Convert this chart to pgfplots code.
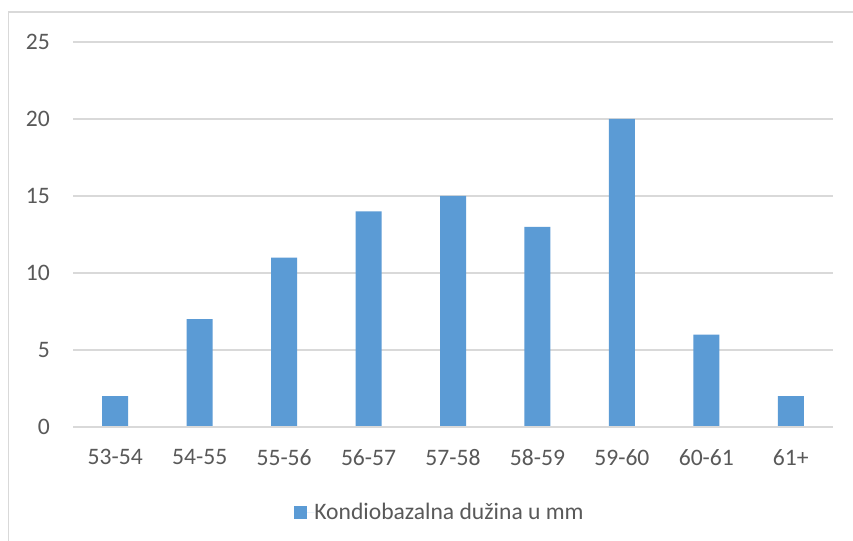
\documentclass[border=0pt]{standalone}
\usepackage{fontspec}
\setmainfont{Carlito}
\usepackage{pgfplots}
\pgfplotsset{compat=1.18}
\definecolor{barblue}{HTML}{5B9BD5}
\definecolor{gridgray}{HTML}{D9D9D9}
\definecolor{textgray}{HTML}{595959}
\begin{document}
\begin{tikzpicture}[x=1bp,y=1bp]
\useasboundingbox (0,0) rectangle (853,541);
\clip (0,0) rectangle (853,541);
\fill[white] (0,0) rectangle (853,541);
\draw[gridgray, line width=1.5bp] (8.5,-20) rectangle (900,529);
\begin{axis}[
    at={(73bp,114bp)}, anchor=south west,
    width=760bp, height=385bp, scale only axis,
    ybar, bar width=26bp,
    xmin=-0.5, xmax=8.5, ymin=0, ymax=25,
    ytick={0,5,...,25},
    xtick={0,...,8},
    xticklabels={53-54,54-55,55-56,56-57,57-58,58-59,59-60,60-61,61+},
    axis line style={draw=none},
    axis x line*=bottom,
    major tick length=0pt,
    ymajorgrids, grid style={gridgray, line width=1.5bp},
    /pgf/number format/assume math mode=true,
    tick label style={text=textgray, font=\fontsize{23.6bp}{28bp}\selectfont},
    yticklabel style={anchor=east, inner sep=0pt, xshift=-23bp},
    xticklabel style={anchor=north, inner sep=0pt, yshift=-22bp},
    legend style={at={(0.4816,-0.221)}, anchor=center, draw=none,
        font=\fontsize{23.6bp}{28bp}\selectfont, text=textgray,
        inner sep=0pt, nodes={inner sep=0pt}},
    legend cell align=left,
    legend image code/.code={
        \fill[#1] (0bp,-6.5bp) rectangle (13bp,6.5bp);
        \path (0bp,0bp) -- (20bp,0bp);},
]
\addplot[fill=barblue, draw=none] coordinates {
    (0,2) (1,7) (2,11) (3,14) (4,15) (5,13) (6,20) (7,6) (8,2)};
\addlegendentry{Kondiobazalna dužina u mm}
\draw[gridgray, line width=2bp] (axis cs:-0.5,0) -- (axis cs:8.5,0);
\end{axis}
\end{tikzpicture}
\end{document}
